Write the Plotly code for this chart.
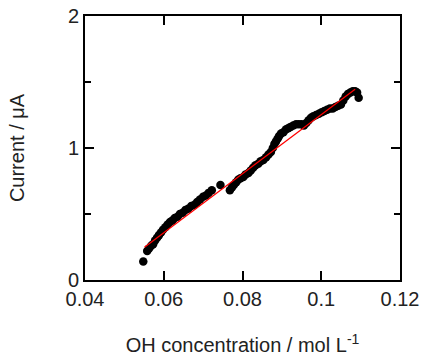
import plotly.graph_objects as go

# Measured data (OH concentration in mol/L, current in µA)
conc = [0.0548, 0.0558, 0.0563, 0.0568, 0.0573, 0.0578, 0.0583, 0.0588, 0.0593, 0.0598,
        0.0604, 0.0610, 0.0616, 0.0622, 0.0628, 0.0635, 0.0641, 0.0648, 0.0655, 0.0662,
        0.0670, 0.0678, 0.0685, 0.0692, 0.0700, 0.0707, 0.0714, 0.0722, 0.0744, 0.0768,
        0.0773, 0.0778, 0.0784, 0.0789, 0.0795, 0.0802, 0.0808, 0.0815, 0.0821, 0.0827,
        0.0833, 0.0840, 0.0846, 0.0853, 0.0860, 0.0866, 0.0872, 0.0877, 0.0881, 0.0885,
        0.0889, 0.0893, 0.0898, 0.0904, 0.0910, 0.0916, 0.0922, 0.0929, 0.0936, 0.0943,
        0.0950, 0.0956, 0.0962, 0.0968, 0.0974, 0.0980, 0.0987, 0.0994, 0.1001, 0.1008,
        0.1015, 0.1022, 0.1029, 0.1036, 0.1043, 0.1050, 0.1056, 0.1062, 0.1068, 0.1074,
        0.1080, 0.1086, 0.1091, 0.1095]
current = [0.14, 0.22, 0.24, 0.26, 0.27, 0.30, 0.32, 0.34, 0.36, 0.38,
           0.40, 0.42, 0.44, 0.45, 0.47, 0.48, 0.50, 0.51, 0.53, 0.54,
           0.56, 0.57, 0.59, 0.61, 0.63, 0.64, 0.66, 0.68, 0.72, 0.68,
           0.70, 0.72, 0.74, 0.76, 0.77, 0.78, 0.80, 0.81, 0.83, 0.85,
           0.87, 0.88, 0.90, 0.91, 0.93, 0.95, 0.97, 1.00, 1.03, 1.05,
           1.07, 1.09, 1.11, 1.12, 1.14, 1.15, 1.16, 1.17, 1.18, 1.18,
           1.18, 1.17, 1.19, 1.21, 1.23, 1.24, 1.25, 1.26, 1.27, 1.28,
           1.29, 1.30, 1.30, 1.31, 1.32, 1.33, 1.36, 1.39, 1.41, 1.42,
           1.43, 1.43, 1.42, 1.38]

# Linear fit line endpoints
fit_x = [0.0551, 0.1086]
fit_y = [0.248, 1.445]

x_ticks = [0.04, 0.06, 0.08, 0.1, 0.12]
x_tick_labels = ["0.04", "0.06", "0.08", "0.1", "0.12"]
y_ticks = [0, 1, 2]
y_tick_labels = ["0", "1", "2"]

FONT = "Liberation Sans, Arial, sans-serif"

fig = go.Figure()
fig.add_trace(go.Scatter(x=conc, y=current, mode="markers",
                         marker=dict(color="black", size=8.5, line=dict(width=0)),
                         showlegend=False))
fig.add_trace(go.Scatter(x=fit_x, y=fit_y, mode="lines",
                         line=dict(color="#ff0000", width=1.3),
                         showlegend=False))

axis_common = dict(showgrid=False, zeroline=False, showline=True, linecolor="black",
                   linewidth=2, mirror="ticks", ticks="inside", tickcolor="black",
                   tickwidth=1.5, ticklen=9, automargin=False,
                   tickfont=dict(family=FONT, size=20, color="#222222"))

fig.update_layout(
    width=422, height=356,
    margin=dict(l=85, r=22, t=16, b=76),
    paper_bgcolor="white", plot_bgcolor="white",
    font=dict(family=FONT, size=20, color="#222222"),
    xaxis=dict(range=[0.04, 0.12], tickvals=x_ticks, ticktext=x_tick_labels,
               title=dict(text="OH concentration / mol L<sup>-1</sup>",
                          font=dict(family=FONT, size=20, color="#222222"), standoff=30),
               **axis_common),
    yaxis=dict(range=[0, 2], tickvals=y_ticks, ticktext=y_tick_labels,
               minor=dict(dtick=0.5, tick0=0, ticks="inside", ticklen=6,
                          tickwidth=1.5, tickcolor="black"),
               title=dict(text="Current / μA",
                          font=dict(family=FONT, size=20, color="#222222"), standoff=38),
               **axis_common),
)

fig.write_html("out.html")
